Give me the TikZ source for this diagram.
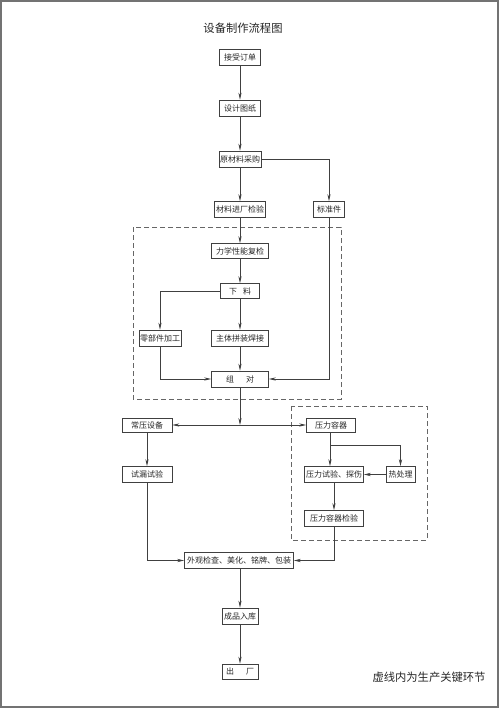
\documentclass[tikz,border=0pt]{standalone}
\usepackage{fontspec}
\newfontfamily\cjk{Noto Sans CJK SC}
\usetikzlibrary{arrows.meta}
\begin{document}
\begin{tikzpicture}[x=1pt,y=-1pt,
  box/.style={draw=black!75,line width=0.7pt,inner sep=0pt,minimum height=16pt,font=\cjk\fontsize{8}{9}\selectfont,text=black!85},
  arr/.style={draw=black!75,line width=0.6pt,-{Stealth[length=7pt,width=3.2pt]}},
  ln/.style={draw=black!75,line width=0.6pt},
  dbox/.style={draw=black!60,line width=0.7pt,dash pattern=on 5pt off 3pt}]
\useasboundingbox (0,0) rectangle (500,709);
\draw[black!55,line width=1.5pt] (1,1) rectangle (498,707);
\node[font=\cjk\fontsize{11.3}{13}\selectfont,text=black!85] (title) at (243,28) {设备制作流程图};
\node[box,minimum width=41pt] (jsdd) at (240,57) {接受订单};
\node[box,minimum width=41pt] (sjtz) at (240,108) {设计图纸};
\node[box,minimum width=42pt] (ycl) at (240,159) {原材料采购};
\node[box,minimum width=51pt] (clj) at (240,209.5) {材料进厂检验};
\node[box,minimum width=31pt] (bzj) at (329,209.5) {标准件};
\node[box,minimum width=57pt,minimum height=15pt] (lx) at (240,251) {力学性能复检};
\node[box,minimum width=39pt,minimum height=15pt] (xl) at (240,291) {下\hspace{6pt}料};
\node[box,minimum width=42pt] (lbj) at (160,338) {零部件加工};
\node[box,minimum width=57pt] (ztp) at (240,338) {主体拼装焊接};
\node[box,minimum width=57pt] (zd) at (240,379) {组\hspace{12pt}对};
\coordinate (br) at (240,425);
\node[box,minimum width=50pt,minimum height=14pt] (cy) at (147,425) {常压设备};
\node[box,minimum width=49pt,minimum height=14pt] (ylrq) at (331,425) {压力容器};
\node[box,minimum width=50pt] (slsy) at (147,474.5) {试漏试验};
\node[box,minimum width=59pt] (ylsy) at (334,474.5) {压力试验、探伤};
\node[box,minimum width=29pt] (rcl) at (400.5,474.5) {热处理};
\node[box,minimum width=59pt] (ylrqjy) at (334,518.5) {压力容器检验};
\node[box,minimum width=109pt] (wg) at (239,560.5) {外观检查、美化、铭牌、包装};
\node[box,minimum width=36pt] (cprk) at (240,616) {成品入库};
\node[box,minimum width=36pt,minimum height=15pt] (cc) at (240,671.5) {出\hspace{12pt}厂};
\node[font=\cjk\fontsize{11.3}{13}\selectfont,text=black!85] (note) at (429,677) {虚线内为生产关键环节};
\draw[dbox] (133,227) rectangle (341,399);
\draw[dbox] (291,406) rectangle (427,540);
\draw[arr] (jsdd) -- (sjtz);
\draw[arr] (sjtz) -- (ycl);
\draw[arr] (ycl) -- (clj);
\draw[arr] (ycl.east) -| (bzj.north);
\draw[arr] (clj) -- (lx);
\draw[arr] (lx) -- (xl);
\draw[arr] (xl.west) -| (lbj.north);
\draw[arr] (xl) -- (ztp);
\draw[arr] (ztp) -- (zd);
\draw[arr] (lbj.south) |- (zd.west);
\draw[arr] (bzj.south) |- (zd.east);
\draw[arr] (zd.south) -- (br);
\draw[arr] (br) -- (cy.east);
\draw[arr] (br) -- (ylrq.west);
\draw[arr] (cy) -- (slsy);
\coordinate (yb) at (330,445);
\draw[ln] (ylrq.south -| yb) -- (yb);
\draw[arr] (yb) -- (ylsy.north -| yb);
\draw[arr] (yb) -| (rcl.north);
\draw[arr] (rcl.west) -- (ylsy.east);
\draw[arr] (ylsy) -- (ylrqjy);
\draw[arr] (slsy.south) |- (wg.west);
\draw[arr] (ylrqjy.south) |- (wg.east);
\draw[arr] (wg.south -| cprk) -- (cprk);
\draw[arr] (cprk) -- (cc);
\end{tikzpicture}
\end{document}
